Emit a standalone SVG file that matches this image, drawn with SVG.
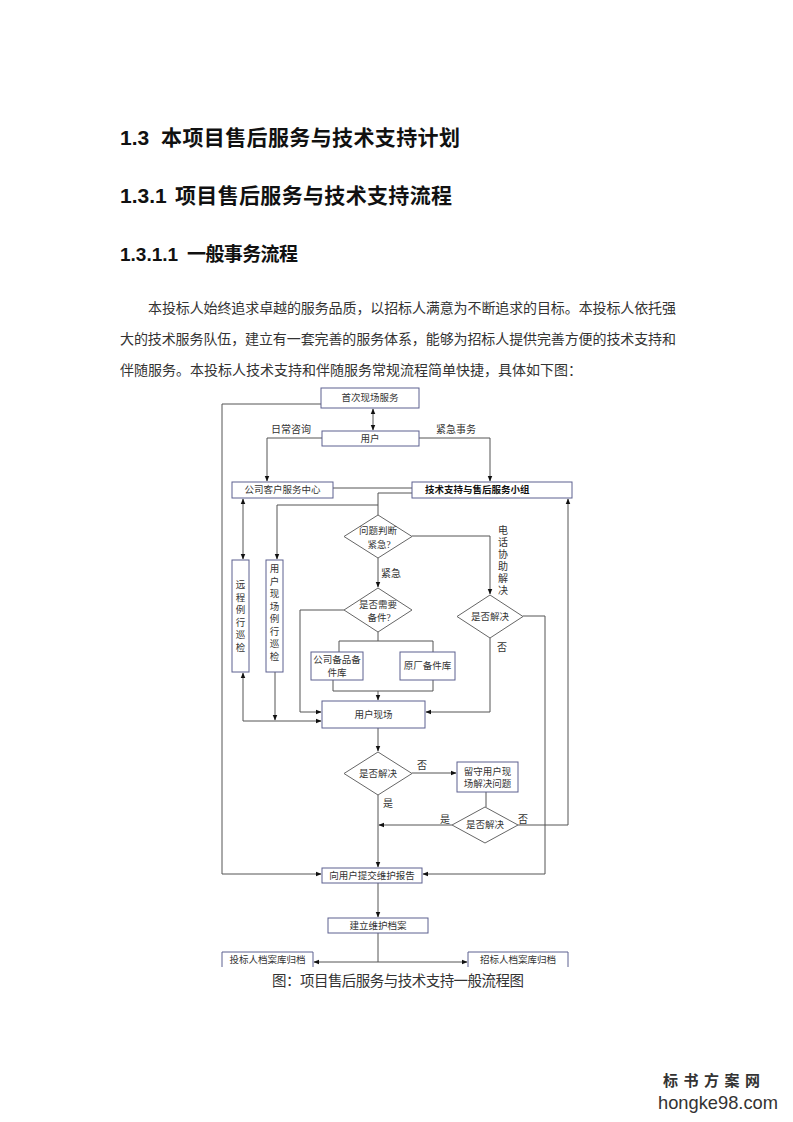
<svg xmlns="http://www.w3.org/2000/svg" width="793" height="1122" viewBox="0 0 793 1122">
<defs>
<marker id="ah" viewBox="0 0 10 10" refX="9" refY="5" markerWidth="6" markerHeight="6" orient="auto-start-reverse" markerUnits="userSpaceOnUse">
<path d="M0,1 L10,5 L0,9 Z" fill="#111"/>
</marker>
<style>
.h{font-family:"Liberation Sans","Noto Sans CJK SC",sans-serif;font-weight:bold;fill:#111}
.p{font-family:"Liberation Serif","Noto Sans CJK SC",serif;font-size:14px;fill:#333}
.b{fill:#fff;stroke:#5d6090;stroke-width:1}
.d{fill:#fff;stroke:#666;stroke-width:1}
.t{font-family:"Liberation Serif","Noto Sans CJK SC",serif;font-size:9.5px;fill:#333;text-anchor:middle;dominant-baseline:central}
.l{font-family:"Liberation Serif","Noto Sans CJK SC",serif;font-size:10px;fill:#333;text-anchor:middle;dominant-baseline:central}
.c{fill:none;stroke:#555;stroke-width:1}
.ca{fill:none;stroke:#555;stroke-width:1;marker-end:url(#ah)}
.cb{fill:none;stroke:#555;stroke-width:1;marker-end:url(#ah);marker-start:url(#ah)}
</style>
</defs>
<rect width="793" height="1122" fill="#fff"/>

<g id="headings">
<text class="h" x="120" y="145" font-size="21">1.3<tspan x="161" textLength="299">本项目售后服务与技术支持计划</tspan></text>
<text class="h" x="120" y="203" font-size="21">1.3.1<tspan x="175" textLength="277">项目售后服务与技术支持流程</tspan></text>
<text class="h" x="120" y="261" font-size="19">1.3.1.1<tspan x="187" textLength="111">一般事务流程</tspan></text>
</g>
<g id="paragraph">
<text class="p" x="148" y="313" textLength="528" lengthAdjust="spacing">本投标人始终追求卓越的服务品质，以招标人满意为不断追求的目标。本投标人依托强</text>
<text class="p" x="120" y="344" textLength="556" lengthAdjust="spacing">大的技术服务队伍，建立有一套完善的服务体系，能够为招标人提供完善方便的技术支持和</text>
<text class="p" x="120" y="375">伴随服务。本投标人技术支持和伴随服务常规流程简单快捷，具体如下图：</text>
</g>

<g id="connectors">
<path class="ca" d="M321,404 H222 V874 H321"/>
<path class="cb" d="M373,409 V430"/>
<path class="ca" d="M322,438 H267 V481"/>
<path class="ca" d="M419,438 H490 V481"/>
<path class="c" d="M333,488 H412"/>
<path class="c" d="M412,493 H378 V515"/>
<path class="ca" d="M378,505 H277 V559"/>
<path class="cb" d="M243,499 V559"/>
<path class="ca" d="M412,536 H490 V594"/>
<path class="ca" d="M378,558 V587"/>
<path class="c" d="M378,632 V641 M339,652 V641 H433 V652"/>
<path class="c" d="M333,680 V691 H433 V680"/>
<path class="ca" d="M378,691 V700"/>
<path class="ca" d="M344,610 H300 V712 H321"/>
<path class="ca" d="M243,721 V673"/>
<path class="ca" d="M243,721 H321"/>
<path class="ca" d="M275,672 V720"/>
<path class="ca" d="M523,616 H545 V874 H423"/>
<path class="ca" d="M490,638 V712 H426"/>
<path class="ca" d="M378,728 V751"/>
<path class="ca" d="M412,773 H456"/>
<path class="ca" d="M378,795 V867"/>
<path class="c" d="M486,792 V807"/>
<path class="ca" d="M452,825 H379"/>
<path class="ca" d="M518,825 H568 V499"/>
<path class="ca" d="M378,883 V917"/>
<path class="c" d="M378,933 V962"/>
<path class="ca" d="M378,962 H314"/>
<path class="ca" d="M378,962 H467"/>
</g>

<g id="labels">
<text class="l" x="291" y="429">日常咨询</text>
<text class="l" x="456" y="429">紧急事务</text>
<text class="l" x="391" y="573">紧急</text>
<text class="l" x="503" y="530">电</text>
<text class="l" x="503" y="542">话</text>
<text class="l" x="503" y="554">协</text>
<text class="l" x="503" y="566">助</text>
<text class="l" x="503" y="578">解</text>
<text class="l" x="503" y="590">决</text>
<text class="l" x="502" y="647">否</text>
<text class="l" x="422" y="765">否</text>
<text class="l" x="388" y="803">是</text>
<text class="l" x="445" y="819">是</text>
<text class="l" x="523" y="819">否</text>
</g>

<g id="n-first">
<rect class="b" x="321" y="388" width="98" height="20"/>
<text class="t" x="370" y="398">首次现场服务</text>
</g>
<g id="n-user">
<rect class="b" x="322" y="431" width="97" height="15"/>
<text class="t" x="370" y="438.5">用户</text>
</g>
<g id="n-center">
<rect class="b" x="232" y="482" width="101" height="16"/>
<text class="t" x="282.5" y="490">公司客户服务中心</text>
</g>
<g id="n-team">
<rect class="b" x="412" y="482" width="160" height="16"/>
<text class="t" x="425" y="490" style="text-anchor:start;font-weight:bold;fill:#111">技术支持与售后服务小组</text>
</g>
<g id="n-remote">
<rect class="b" x="232" y="560" width="17" height="112"/>
<text class="t" x="240.5" y="585">远</text>
<text class="t" x="240.5" y="597.5">程</text>
<text class="t" x="240.5" y="610">例</text>
<text class="t" x="240.5" y="622.5">行</text>
<text class="t" x="240.5" y="635">巡</text>
<text class="t" x="240.5" y="647.5">检</text>
</g>
<g id="n-onsite-check">
<rect class="b" x="266" y="560" width="17" height="112"/>
<text class="t" x="274.5" y="569">用</text>
<text class="t" x="274.5" y="581.5">户</text>
<text class="t" x="274.5" y="594">现</text>
<text class="t" x="274.5" y="606.5">场</text>
<text class="t" x="274.5" y="619">例</text>
<text class="t" x="274.5" y="631.5">行</text>
<text class="t" x="274.5" y="644">巡</text>
<text class="t" x="274.5" y="656.5">检</text>
</g>
<g id="n-judge">
<polygon class="d" points="378,515 412,536.5 378,558 344,536.5"/>
<text class="t" x="378" y="531">问题判断</text>
<text class="t" x="379" y="545">紧急?</text>
</g>
<g id="n-parts">
<polygon class="d" points="378,588 412,610 378,632 344,610"/>
<text class="t" x="378" y="605">是否需要</text>
<text class="t" x="379" y="618">备件?</text>
</g>
<g id="n-solved1">
<polygon class="d" points="490,595 523,616.5 490,638 457,616.5"/>
<text class="t" x="490" y="616.5">是否解决</text>
</g>
<g id="n-stock1">
<rect class="b" x="311" y="652" width="52" height="28"/>
<text class="t" x="337" y="660">公司备品备</text>
<text class="t" x="337" y="673">件库</text>
</g>
<g id="n-stock2">
<rect class="b" x="400" y="652" width="55" height="28"/>
<text class="t" x="427.5" y="666">原厂备件库</text>
</g>
<g id="n-site">
<rect class="b" x="322" y="701" width="103" height="27"/>
<text class="t" x="373.5" y="714.5">用户现场</text>
</g>
<g id="n-solved2">
<polygon class="d" points="378,752 412,773.5 378,795 344,773.5"/>
<text class="t" x="378" y="773.5">是否解决</text>
</g>
<g id="n-stay">
<rect class="b" x="457" y="762" width="61" height="30"/>
<text class="t" x="487.5" y="772">留守用户现</text>
<text class="t" x="487.5" y="784">场解决问题</text>
</g>
<g id="n-solved3">
<polygon class="d" points="485,807 518,825 485,843 452,825"/>
<text class="t" x="485" y="825">是否解决</text>
</g>
<g id="n-report">
<rect class="b" x="322" y="868" width="100" height="15"/>
<text class="t" x="372" y="875.5">向用户提交维护报告</text>
</g>
<g id="n-archive">
<rect class="b" x="328" y="918" width="100" height="15"/>
<text class="t" x="378" y="925.5">建立维护档案</text>
</g>
<g id="n-bidder">
<path class="b" d="M222,967 V952 H313 V967"/>
<text class="t" x="267.5" y="960">投标人档案库归档</text>
</g>
<g id="n-tenderer">
<path class="b" d="M468,967 V952 H568 V967"/>
<text class="t" x="518" y="960">招标人档案库归档</text>
</g>

<g id="caption">
<text class="p" x="272" y="986" textLength="252" style="font-size:14.5px">图：项目售后服务与技术支持一般流程图</text>
</g>
<g id="watermark">
<text x="663" y="1086" textLength="97" style="font-family:'Noto Sans CJK SC',sans-serif;font-weight:bold;font-size:15px;fill:#333">标书方案网</text>
<text x="658" y="1109" textLength="120" lengthAdjust="spacingAndGlyphs" style="font-family:'Liberation Sans',sans-serif;font-size:19px;fill:#333">hongke98.com</text>
</g>
</svg>
